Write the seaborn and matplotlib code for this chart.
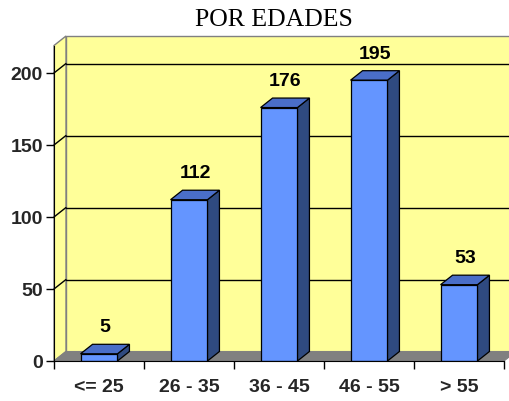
import matplotlib
matplotlib.use("Agg")
import matplotlib.pyplot as plt
import seaborn as sns
import pandas as pd
from matplotlib.patches import Polygon

categories = ["<= 25", "26 - 35", "36 - 45", "46 - 55", "> 55"]
values = [5, 112, 176, 195, 53]
yticks = [0, 50, 100, 150, 200]

sns.set_style("white")
plt.rcParams["font.family"] = ["Liberation Sans", "DejaVu Sans"]

W, H = 509, 401
fig = plt.figure(figsize=(W / 100, H / 100), dpi=100)

# front plane geometry (pixels)
x0_px, x_end_px, cat_px = 54, 509, 90
y0_px, ytop_px = 361, 36
px_per_unit = 1.44
left = x0_px / W
bottom = (H - y0_px) / H
ax = fig.add_axes([left, bottom, (x_end_px - x0_px) / W, (y0_px - ytop_px) / H])
xmin = -0.5
xmax = xmin + (x_end_px - x0_px) / cat_px
ymax = (y0_px - ytop_px) / px_per_unit
ax.set_xlim(xmin, xmax)
ax.set_ylim(0, ymax)
ax.patch.set_alpha(0)

# depth offsets in data units
dx = 12 / cat_px
dy = 9.5 / px_per_unit
wall_top = ymax
right_far = xmax + 1

yellow = "#FFFF99"
wall_edge = "#808080"

# back wall
ax.add_patch(Polygon([(xmin + dx, dy), (right_far, dy), (right_far, wall_top), (xmin + dx, wall_top)],
                     closed=True, facecolor=yellow, edgecolor=wall_edge, lw=1, zorder=0, clip_on=False))
# left wall
ax.add_patch(Polygon([(xmin, 0), (xmin + dx, dy), (xmin + dx, wall_top), (xmin, wall_top - dy)],
                     closed=True, facecolor=yellow, edgecolor=wall_edge, lw=1, zorder=0.5, clip_on=False))
# floor
ax.add_patch(Polygon([(xmin, 0), (4.5, 0), (4.5 + dx, dy), (xmin + dx, dy)],
                     closed=True, facecolor="#808080", edgecolor="#808080", lw=0.8, zorder=1, clip_on=False))

# gridlines on back and left walls
for v in yticks[1:]:
    ax.plot([xmin + dx, right_far], [v + dy, v + dy], color="black", lw=1, zorder=0.8, clip_on=False)
    ax.plot([xmin, xmin + dx], [v, v + dy], color="black", lw=1, zorder=0.8, clip_on=False)

# bars (front faces) via seaborn
df = pd.DataFrame({"cat": categories, "val": values})
bw = 0.41
front = "#6495FF"
top_c = "#4A6EC8"
side_c = "#2F4A80"
sns.barplot(data=df, x="cat", y="val", order=categories, color=front, saturation=1,
            width=bw, edgecolor="black", linewidth=0.9, ax=ax, zorder=3)
ax.set_xlim(xmin, xmax)
ax.set_ylim(0, ymax)

for i, v in enumerate(values):
    xl, xr = i - bw / 2, i + bw / 2
    ax.add_patch(Polygon([(xr, 0), (xr + dx, dy), (xr + dx, v + dy), (xr, v)], closed=True,
                         facecolor=side_c, edgecolor="black", lw=0.9, zorder=2.9, clip_on=False))
    ax.add_patch(Polygon([(xl, v), (xr, v), (xr + dx, v + dy), (xl + dx, v + dy)], closed=True,
                         facecolor=top_c, edgecolor="black", lw=0.9, zorder=2.9, clip_on=False))
    ax.text(i + dx / 2, v + 18, str(v), ha="center", va="center", fontsize=14,
            fontweight="bold", color="black", zorder=5)

# axes spines / ticks
for s in ["top", "right"]:
    ax.spines[s].set_visible(False)
ax.spines["left"].set_bounds(0, wall_top - dy)
ax.spines["bottom"].set_bounds(xmin, 4.5)
ax.spines["left"].set_color("black")
ax.spines["bottom"].set_color("black")
ax.spines["left"].set_zorder(4)
ax.spines["bottom"].set_zorder(4)

ax.set_yticks(yticks)
ax.set_yticklabels([str(t) for t in yticks], fontsize=14, fontweight="bold")
ax.tick_params(axis="y", direction="out", length=6, width=1, color="black", pad=2, left=True)

ax.set_xticks(range(len(categories)))
ax.set_xticklabels(categories, fontsize=14, fontweight="bold")
ax.tick_params(axis="x", length=0, pad=13)
ax.set_xticks([i + 0.5 for i in range(-1, len(categories))], minor=True)
ax.tick_params(axis="x", which="minor", direction="out", length=6, width=1, color="black", bottom=True)
ax.set_xlabel("")
ax.set_ylabel("")
ax.grid(False)

fig.text(274 / W, 1 - 20 / H, "POR EDADES", ha="center", va="center",
         fontsize=18.5, family=["Liberation Serif", "DejaVu Serif"], color="black")

fig.savefig("out.png", dpi=100, facecolor="white")
